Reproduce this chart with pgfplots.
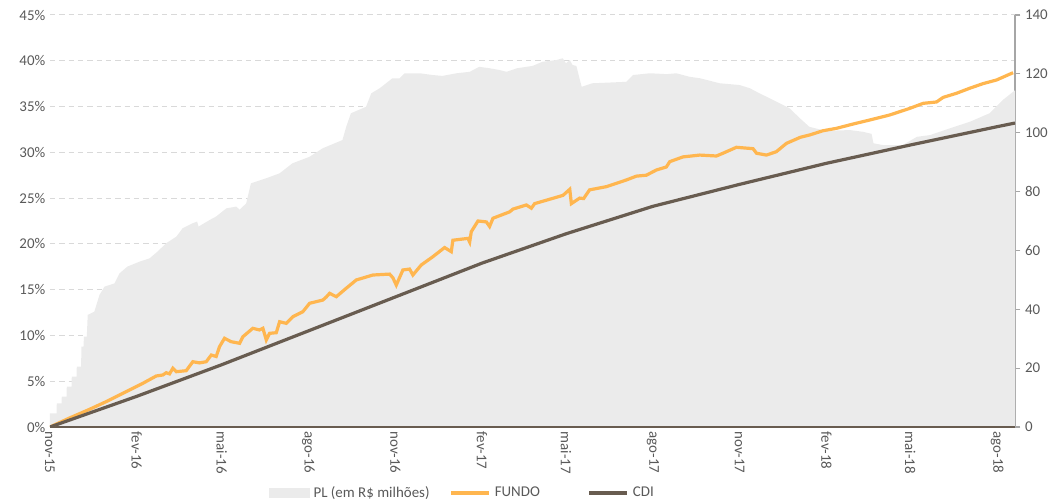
\documentclass[border=0pt]{standalone}
\usepackage{pgfplots}
\pgfplotsset{compat=1.18}
\usepackage{fontspec}
\setmainfont{Carlito}
\definecolor{plgray}{HTML}{EBEBEB}
\definecolor{fundo}{HTML}{FFB64F}
\definecolor{cdi}{HTML}{685C50}
\definecolor{txt}{HTML}{595959}
\definecolor{grd}{HTML}{D9D9D9}
\definecolor{rax}{HTML}{A6A6A6}

\pgfplotstableread{
d v
0 4.6
6.9 4.6
7.2 8.0
12.2 8.0
12.5 10.3
17.5 10.3
17.8 13.7
22.8 13.7
23.1 17.1
28.1 17.1
28.4 20.5
33 20.5
33.3 27.3
35.5 27.3
36 30.7
39 30.7
40 38.1
47 39.2
52.5 44.9
57.8 47.7
68.4 48.8
73.7 52.2
82 54.5
95 56.2
105.5 57.3
114 59.6
123 62.4
134 64.7
140.5 67.5
151 69.2
156 69.8
157.5 68.1
169 70.3
176 71.5
187 74.3
197.5 74.9
201 73.8
208 76.0
213 82.8
229 84.5
243.4 86.2
257 89.6
275 91.8
289 94.7
310 97.5
314 102.0
319 106.6
335 108.8
340.6 113.4
349.5 115.1
363 118.5
370.6 118.5
376 120.2
392 120.2
405.6 119.6
416 119.3
431 120.2
445 120.7
455 122.4
466 121.9
476.6 121.3
484 120.7
495 121.9
511.6 122.7
522 124.1
537 124.7
543.5 125.3
547 123.6
551 124.7
554 123.0
558 122.7
563.6 115.6
575 116.8
590 117.0
611 117.3
618 119.6
636 120.2
654 119.9
664 120.2
678 119.0
689 118.5
710 116.8
731 116.2
742 115.1
752 113.4
763 111.7
773.5 110.0
784 108.3
795 104.9
805 102.0
819 100.9
830 100.7
848 100.9
862 100.3
871 99.6
873 96.4
883 95.8
904 95.8
919 98.6
933 99.2
954 101.5
975 103.7
996 106.6
1010 111.1
1021 113.9
1023 114.4
}\pltable

\pgfplotstableread{
d v
0 0
20 0.95
41.9 1.93
59.6 2.77
80.8 3.86
98.4 4.77
112.6 5.57
119.6 5.68
123.2 5.93
126.7 5.80
130.2 6.41
133.8 6.04
144.4 6.15
151.4 7.13
158.5 7.0
165.6 7.13
171 7.86
176.2 7.70
179.7 8.77
185 9.69
192 9.32
201 9.14
204.5 9.86
215 10.78
222 10.6
225.7 10.78
229.3 9.50
232.8 10.23
239.9 10.3
243.4 11.5
250.5 11.32
257.5 12.05
268 12.59
275.2 13.51
289.3 13.87
292.9 14.2
296.4 14.6
303.5 14.23
314 15.15
324.7 16.06
342.3 16.6
360 16.7
363.5 16.3
367.1 15.5
374.1 17.15
381.2 17.25
384.7 16.6
393.6 17.7
405.9 18.6
418.3 19.6
425.4 19.15
427.1 20.4
443 20.6
444.9 20.2
446.6 21.33
453.7 22.5
462.6 22.4
466 21.9
469.6 22.8
487.3 23.5
490.8 23.8
505 24.25
510.3 23.9
513.8 24.4
533.2 24.98
543.8 25.3
551 25.96
552.7 24.4
561.5 25.0
565.7 24.95
572 25.9
589.8 26.25
611 26.98
621.6 27.4
632.2 27.5
642.8 28.07
653.4 28.4
657 28.98
671 29.5
688.8 29.7
706.5 29.6
713.4 29.9
727.7 30.55
745.3 30.4
749 29.9
759.5 29.7
770 30.07
780.7 30.98
795.4 31.64
805.4 31.9
819.5 32.36
833.7 32.62
851.3 33.09
869 33.53
890.2 34.08
911.4 34.8
925.6 35.35
939.8 35.5
946.8 36.0
961 36.45
975 37.0
989 37.5
1003.4 37.9
1021 38.7
}\fundotable

\pgfplotstableread{
d v
0 0
92 3.35
182 6.8
274 10.5
366 14.2
458 17.9
547 21.1
639 24.1
731 26.5
823 28.8
912 30.8
1004 32.8
1023 33.2
}\cditable

\pgfplotsset{base/.style={scale only axis, width=723.75pt, height=309pt,
  xmin=0, xmax=1023,
  tick label style={font=\fontsize{11.2}{13}\selectfont, text=txt}}}

\begin{document}
\begin{tikzpicture}
\useasboundingbox (-37.5pt,-57pt) rectangle (756pt,320.25pt);
% axis 1: grid and labels
\begin{axis}[base, ymin=0, ymax=45,
  axis x line*=bottom, axis y line*=left, axis line style={draw=none},
  ytick={0,5,10,15,20,25,30,35,40,45},
  yticklabels={0\%,5\%,10\%,15\%,20\%,25\%,30\%,35\%,40\%,45\%},
  ymajorgrids, grid style={grd, dash pattern=on 4pt off 3pt, line width=0.75pt},
  major tick length=0pt,
  xtick={0,92,182,274,366,458,547,639,731,823,912,1004},
  xticklabels={nov-15,fev-16,mai-16,ago-16,nov-16,fev-17,mai-17,ago-17,nov-17,fev-18,mai-18,ago-18},
  xticklabel style={rotate=-90, anchor=west},
  yticklabel style={anchor=east}]
\addplot[draw=none] coordinates {(0,0)};
\end{axis}
% axis 2: PL area, right axis
\begin{axis}[base, ymin=0, ymax=140,
  axis y line*=right, axis x line=none,
  ytick={0,20,40,60,80,100,120,140},
  yticklabels={0,20,40,60,80,100,120,140},
  y axis line style={rax, line width=1.2pt},
  ytick style={rax, line width=0.9pt},
  tick align=outside, major tick length=4pt,
  yticklabel style={anchor=west}]
\addplot[fill=plgray, draw=none] table[x=d, y=v] {\pltable} \closedcycle;
\end{axis}
% axis 3: lines
\begin{axis}[base, ymin=0, ymax=45,
  axis y line=none, axis x line*=bottom,
  x axis line style={cdi, line width=1.9pt},
  xtick=\empty,
  legend columns=3,
  legend image code/.code={\draw[#1] (0pt,0pt) -- (28.5pt,0pt);},
  legend style={draw=none, fill=none, at={(0.4264,0)}, yshift=-49.5pt, anchor=center,
    font=\fontsize{11.2}{13}\selectfont, text=txt,
    nodes={inner xsep=0pt},
    /tikz/every odd column/.append style={column sep=3pt},
    /tikz/every even column/.append style={column sep=0pt}}]
\addlegendimage{legend image code/.code={\fill[plgray] (0pt,-3.2pt) rectangle (30pt,3.2pt);}}
\addlegendentry{\makebox[102pt][l]{PL (em R\$ milhões)}}
\addplot[fundo, line width=2.4pt] table[x=d, y=v] {\fundotable};
\addlegendentry{\makebox[69.75pt][l]{FUNDO}}
\addplot[cdi, line width=2.4pt] table[x=d, y=v] {\cditable};
\addlegendentry{CDI}
\end{axis}
\end{tikzpicture}
\end{document}
